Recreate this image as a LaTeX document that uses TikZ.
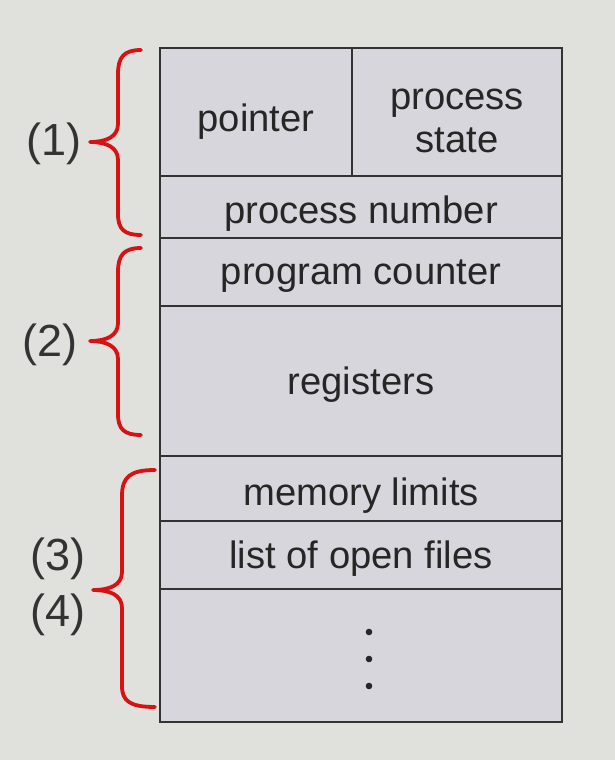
\documentclass[tikz,border=0pt]{standalone}
\usepackage{fontspec}
\setmainfont{Liberation Sans}
\begin{document}
\begin{tikzpicture}[x=1pt,y=-1pt,
  cell/.style={draw=black!80, line width=2.4pt, fill=boxfill, rectangle, inner sep=0pt},
  txt/.style={font=\fontsize{38.2}{43}\selectfont, text=black!85, align=center, inner sep=0pt},
  bracepath/.style={draw=bracered, line width=3.8pt, line cap=round, line join=round},
  lab/.style={font=\fontsize{45}{50}\selectfont, text=black!80, inner sep=0pt}]
\definecolor{bg}{RGB}{224,225,220}
\definecolor{boxfill}{RGB}{214,214,220}
\definecolor{bracered}{RGB}{214,18,18}
\useasboundingbox[fill=bg] (0,0) rectangle (615,760);
% cells
\node[cell, minimum width=192pt, minimum height=128pt,
  label={[txt, yshift=-10pt]center:pointer}] (ptr) at (256,112) {};
\node[cell, minimum width=210pt, minimum height=128pt,
  label={[txt, yshift=-9pt]center:process\\state}] (st) at (457,112) {};
\node[cell, minimum width=402pt, minimum height=62pt,
  label={[txt, yshift=-7pt]center:process number}] (pn) at (361,207) {};
\node[cell, minimum width=402pt, minimum height=68pt,
  label={[txt, yshift=-4pt]center:program counter}] (pc) at (361,272) {};
\node[cell, minimum width=402pt, minimum height=150pt,
  label={[txt, yshift=-4pt]center:registers}] (reg) at (361,381) {};
\node[cell, minimum width=402pt, minimum height=65pt,
  label={[txt, yshift=-7pt]center:memory limits}] (mem) at (361,488.5) {};
\node[cell, minimum width=402pt, minimum height=68pt,
  label={[txt, yshift=-4pt]center:list of open files}] (files) at (361,555) {};
\node[cell, minimum width=402pt, minimum height=133pt] (more) at (361,655.5) {};
\foreach \yy in {632,659,686} \fill[black!85] (369,\yy) circle (3.3pt);
% labels
\node[lab] (l1) at (54,144) {(1)};
\node[lab] (l2) at (50,345) {(2)};
\node[lab] (l3) at (58,559) {(3)};
\node[lab] (l4) at (58,615) {(4)};
% braces
\draw[bracepath] (141,50) .. controls (124,50) and (118,57) .. (118,74) -- (118,124)
  .. controls (118,137) and (106,142) .. (90,142)
  .. controls (106,142) and (118,147) .. (118,160) -- (118,214)
  .. controls (118,229) and (124,235) .. (141,235);
\draw[bracepath] (141,248) .. controls (124,248) and (118,255) .. (118,272) -- (118,323)
  .. controls (118,336) and (106,341) .. (90,341)
  .. controls (106,341) and (118,346) .. (118,359) -- (118,414)
  .. controls (118,429) and (124,435) .. (141,435);
\draw[bracepath] (155,470) .. controls (130,470) and (122,477) .. (122,496) -- (122,572)
  .. controls (122,585) and (110,590) .. (93,590)
  .. controls (110,590) and (122,595) .. (122,608) -- (122,686)
  .. controls (122,701) and (130,707) .. (155,707);
\end{tikzpicture}
\end{document}
